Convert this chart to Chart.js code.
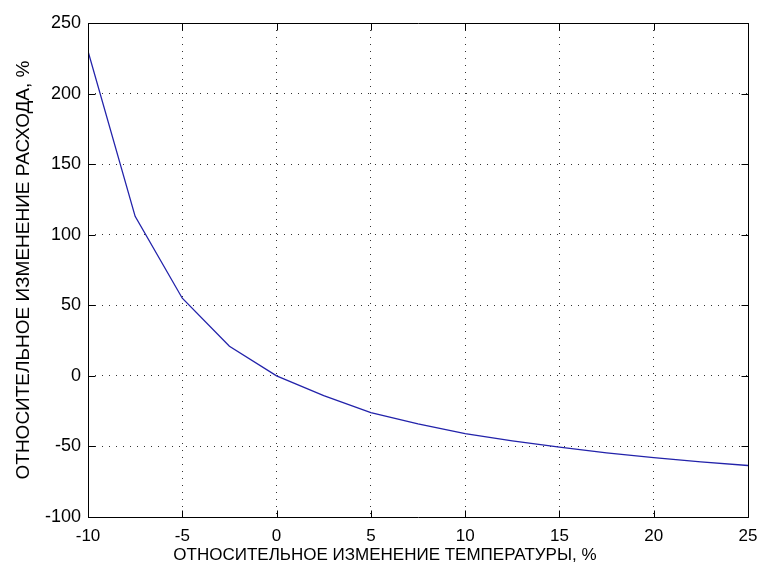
<!DOCTYPE html>
<html>
<head>
<meta charset="utf-8">
<script src="https://cdn.jsdelivr.net/npm/chart.js@4/dist/chart.umd.min.js"></script>
<style>
  html, body { margin: 0; padding: 0; background: #fff; }
  #wrap { width: 757px; height: 565px; }
</style>
</head>
<body>
<div id="wrap"><canvas id="c" width="757" height="565"></canvas></div>
<script>
// Relative temperature change, %
const tempChange = [-10, -7.5, -5, -2.5, 0, 2.5, 5, 7.5, 10, 12.5, 15, 17.5, 20, 22.5, 25];
// Relative flow change, %
const flowChange = [230, 113, 55, 21, 0, -14, -26, -34, -41, -46, -50.5, -54.5, -58, -61, -63.5];
// Tick labels
const xTicks = [-10, -5, 0, 5, 10, 15, 20, 25];
const yTicks = [-100, -50, 0, 50, 100, 150, 200, 250];
const xTitle = 'ОТНОСИТЕЛЬНОЕ ИЗМЕНЕНИЕ ТЕМПЕРАТУРЫ, %';
const yTitle = 'ОТНОСИТЕЛЬНОЕ ИЗМЕНЕНИЕ РАСХОДА, %';

const FONT = "'Liberation Sans', Arial, sans-serif";

const framePlugin = {
  id: 'frame',
  afterDatasetsDraw(chart) {
    const {ctx, chartArea: a, scales: {x, y}} = chart;
    const L = Math.round(a.left) + 0.5, R = Math.round(a.right) + 0.5;
    const T = Math.round(a.top) + 0.5, B = Math.round(a.bottom) + 0.5;
    const tl = 7;
    ctx.save();
    ctx.strokeStyle = '#000';
    ctx.lineWidth = 1;
    ctx.setLineDash([]);
    ctx.beginPath();
    ctx.rect(L, T, R - L, B - T);
    xTicks.forEach(v => {
      const px = Math.round(x.getPixelForValue(v)) + 0.5;
      ctx.moveTo(px, B); ctx.lineTo(px, B - tl);
      ctx.moveTo(px, T); ctx.lineTo(px, T + tl);
    });
    yTicks.forEach(v => {
      const py = Math.round(y.getPixelForValue(v)) + 0.5;
      ctx.moveTo(L, py); ctx.lineTo(L + tl, py);
      ctx.moveTo(R, py); ctx.lineTo(R - tl, py);
    });
    ctx.stroke();
    ctx.restore();
  }
};

new Chart(document.getElementById('c'), {
  type: 'line',
  data: {
    datasets: [{
      data: tempChange.map((t, i) => ({x: t, y: flowChange[i]})),
      borderColor: '#2222aa',
      borderWidth: 1.3,
      pointRadius: 0,
      tension: 0,
      fill: false
    }]
  },
  options: {
    responsive: false,
    animation: false,
    devicePixelRatio: 1,
    layout: { padding: { top: 23, right: 9, bottom: 0, left: 0 } },
    plugins: { legend: { display: false }, tooltip: { enabled: false } },
    scales: {
      x: {
        type: 'linear',
        min: -10, max: 25,
        afterBuildTicks: s => { s.ticks = xTicks.map(v => ({value: v})); },
        afterFit: s => { s.height = 48; s.paddingLeft = 0; s.paddingRight = 0; },
        grid: { color: '#333', lineWidth: 1, drawTicks: false },
        border: { display: false, dash: [1, 6] },
        ticks: { color: '#000', padding: 9, maxRotation: 0, font: { family: FONT, size: 17 } },
        title: { display: true, text: xTitle + '\u00a0'.repeat(14), color: '#000', padding: { top: 0, bottom: -1 }, font: { family: FONT, size: 17 } }
      },
      y: {
        type: 'linear',
        min: -100, max: 250,
        afterBuildTicks: s => { s.ticks = yTicks.map(v => ({value: v})); },
        afterFit: s => { s.width = 88; s.paddingTop = 0; s.paddingBottom = 0; },
        grid: { color: '#333', lineWidth: 1, drawTicks: false },
        border: { display: false, dash: [1, 6] },
        ticks: { color: '#000', padding: 7, font: { family: FONT, size: 18 } },
        title: { display: true, text: yTitle, color: '#000', padding: { top: 12, bottom: 0 }, font: { family: FONT, size: 19 } }
      }
    }
  },
  plugins: [framePlugin]
});
</script>
</body>
</html>
